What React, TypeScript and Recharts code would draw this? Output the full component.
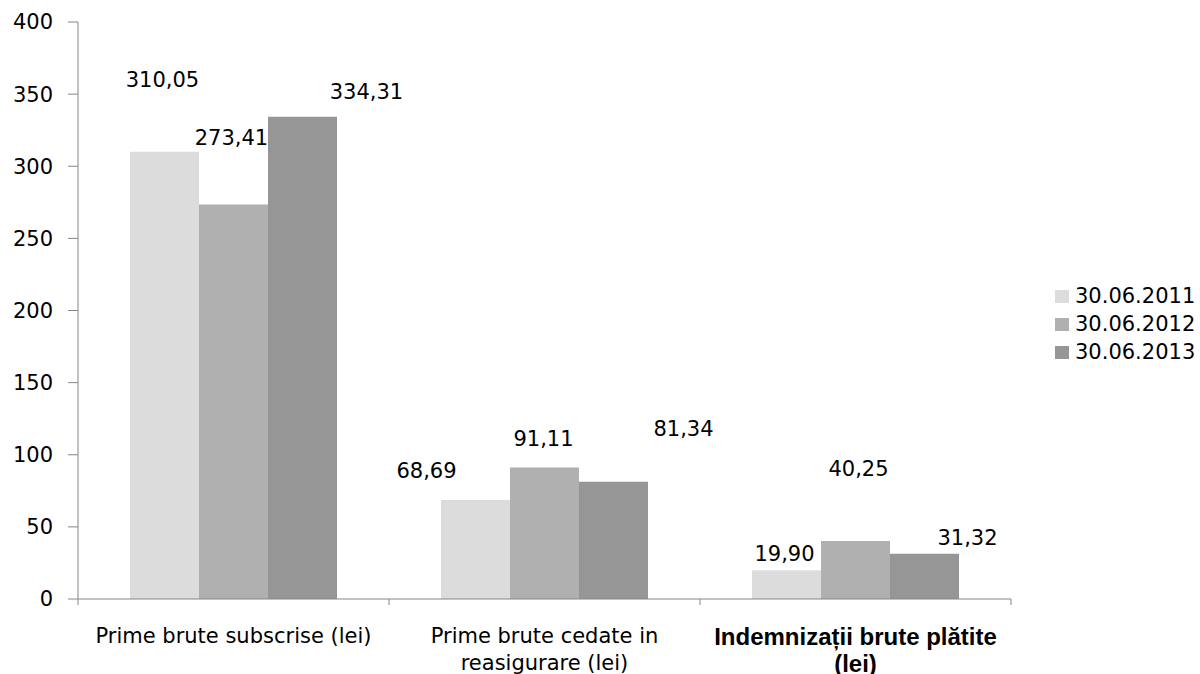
import { BarChart, Bar, XAxis, YAxis, Legend, LabelList } from 'recharts';

const categories = [
  'Prime brute subscrise (lei)',
  'Prime brute cedate in reasigurare (lei)',
  'Indemnizații brute plătite (lei)',
];
// how the category names break onto lines under the axis
const categoryLines = [
  ['Prime brute subscrise (lei)'],
  ['Prime brute cedate in', 'reasigurare (lei)'],
  ['Indemnizații brute plătite', '(lei)'],
];
const values2011 = [310.05, 68.69, 19.9];
const values2012 = [273.41, 91.11, 40.25];
const values2013 = [334.31, 81.34, 31.32];
const yTicks = [0, 50, 100, 150, 200, 250, 300, 350, 400];

const series = [
  { key: 'y2011', name: '30.06.2011', color: '#dcdcdc' },
  { key: 'y2012', name: '30.06.2012', color: '#b0b0b0' },
  { key: 'y2013', name: '30.06.2013', color: '#969696' },
];

// hand-placed label nudges from the original (dx, dy from bar top-centre)
const labelNudge: Record<string, [number, number][]> = {
  y2011: [[-2, -72], [-49, -29], [-2, -16]],
  y2012: [[-2, -67], [-1, -29], [3, -72]],
  y2013: [[64, -25], [70, -53], [43, -16]],
};

const data = categories.map((name, i) => ({
  name,
  y2011: values2011[i],
  y2012: values2012[i],
  y2013: values2013[i],
}));

const W = 1200;
const H = 674;
const M = { top: 22, right: 189, bottom: 0, left: 0 };
const Y_W = 78;
const X_H = 75;
const band = (W - M.right - Y_W) / categories.length;
const axisColor = '#868686';
const font = '"DejaVu Sans", sans-serif';

const fmt = (v: number) => v.toFixed(2).replace('.', ',');

const makeLabel = (key: string) => (props: any) => {
  const { x, y, width, value, index } = props;
  const [dx, dy] = labelNudge[key][index] || [0, -10];
  return (
    <text
      x={x + width / 2 + dx}
      y={y + dy}
      textAnchor="middle"
      dominantBaseline="central"
      fontFamily={font}
      fontSize={21}
      fill="#000"
    >
      {fmt(Number(value))}
    </text>
  );
};

function CategoryTick(props: any) {
  const { x, y, index } = props;
  const lines = categoryLines[index] || [];
  const special = index === 2;
  return (
    <g>
      <line x1={x - band / 2} x2={x - band / 2} y1={y} y2={y + 6} stroke={axisColor} />
      {index === categories.length - 1 && (
        <line x1={x + band / 2} x2={x + band / 2} y1={y} y2={y + 6} stroke={axisColor} />
      )}
      {lines.map((l, i) => (
        <text
          key={i}
          x={x}
          y={y + 37 + i * 27}
          textAnchor="middle"
          dominantBaseline="central"
          fontFamily={special ? '"Liberation Sans", Arial, sans-serif' : font}
          fontSize={special ? 24 : 21}
          fontWeight={special ? 600 : 400}
          fill="#000"
        >
          {l}
        </text>
      ))}
    </g>
  );
}

function LegendBox() {
  return (
    <div>
      {series.map(s => (
        <div key={s.key} style={{ display: 'flex', alignItems: 'center', height: 28 }}>
          <span style={{ display: 'inline-block', width: 14, height: 13, background: s.color, marginRight: 6 }} />
          <span style={{ fontFamily: font, fontSize: 21, color: '#000', whiteSpace: 'nowrap' }}>{s.name}</span>
        </div>
      ))}
    </div>
  );
}

export default function App() {
  return (
    <div style={{ position: 'absolute', left: 0, top: 0, width: W, height: H, background: '#fff', overflow: 'hidden' }}>
      <BarChart width={W} height={H} data={data} margin={M} barCategoryGap={52} barGap={0}>
        <XAxis
          dataKey="name"
          height={X_H}
          axisLine={{ stroke: axisColor }}
          tickLine={false}
          tickSize={0}
          tickMargin={0}
          interval={0}
          tick={<CategoryTick />}
        />
        <YAxis
          width={Y_W}
          domain={[0, 400]}
          ticks={yTicks}
          interval={0}
          axisLine={{ stroke: axisColor }}
          tickLine={{ stroke: axisColor }}
          tickSize={10}
          tickMargin={15}
          tick={{ fontFamily: font, fontSize: 21, fill: '#000' }}
        />
        <Legend
          layout="vertical"
          align="center"
          verticalAlign="middle"
          content={<LegendBox />}
          wrapperStyle={{ left: 1055, top: 282, width: 145, right: 'auto', bottom: 'auto' }}
        />
        {series.map(s => (
          <Bar key={s.key} dataKey={s.key} name={s.name} fill={s.color} isAnimationActive={false}>
            <LabelList dataKey={s.key} content={makeLabel(s.key)} />
          </Bar>
        ))}
      </BarChart>
    </div>
  );
}
